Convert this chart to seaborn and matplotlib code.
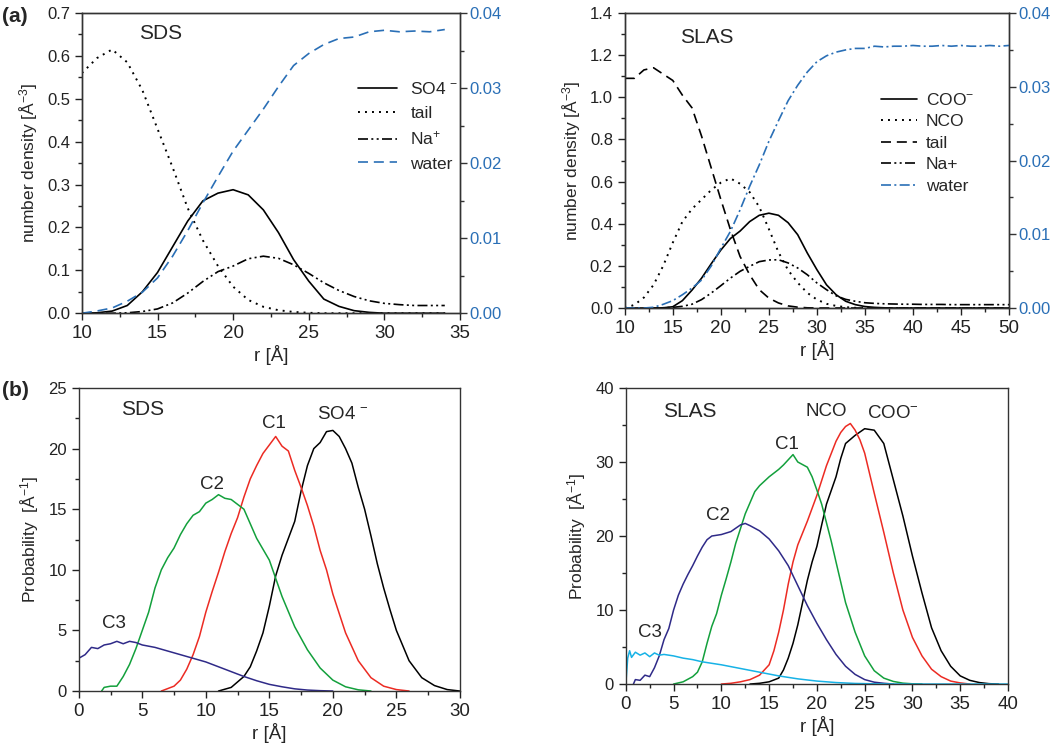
import matplotlib
matplotlib.use('Agg')
import matplotlib.pyplot as plt
from matplotlib.ticker import MultipleLocator, AutoMinorLocator, FormatStrFormatter
import seaborn as sns

# ---- (a) SDS number density, r = 10..34 step 1
r_sds = list(range(10, 35))
so4_sds = [0.0, 0.001, 0.005, 0.018, 0.05, 0.095, 0.155, 0.215, 0.262, 0.28, 0.288, 0.276, 0.241,
           0.188, 0.125, 0.075, 0.033, 0.016, 0.006, 0.002, 0.0, 0.0, 0.0, 0.0, 0.0]
tail_sds = [0.56, 0.595, 0.615, 0.585, 0.52, 0.43, 0.34, 0.245, 0.17, 0.11, 0.062, 0.031, 0.015,
            0.007, 0.003, 0.001, 0.0, 0.0, 0.0, 0.0, 0.0, 0.0, 0.0, 0.0, 0.0]
na_sds = [0.0, 0.0, 0.0, 0.001, 0.004, 0.01, 0.024, 0.047, 0.074, 0.097, 0.11, 0.127, 0.133,
          0.128, 0.113, 0.093, 0.071, 0.053, 0.039, 0.029, 0.023, 0.02, 0.018, 0.018, 0.018]
water_sds = [0.0, 0.0003, 0.0007, 0.0016, 0.0028, 0.0047, 0.0076, 0.011, 0.0147, 0.0182, 0.0216,
             0.0244, 0.0272, 0.0302, 0.033, 0.0346, 0.0358, 0.0366, 0.0368, 0.0375, 0.0377,
             0.0375, 0.0376, 0.0375, 0.0378]

# ---- (a) SLAS number density, r = 10..50 step 1
r_slas = list(range(10, 51))
coo_slas = [0.0, 0.0, 0.0, 0.0, 0.001, 0.006, 0.035, 0.085, 0.142, 0.21, 0.275, 0.33, 0.365, 0.41,
            0.44, 0.45, 0.44, 0.405, 0.348, 0.261, 0.182, 0.11, 0.063, 0.032, 0.016, 0.007, 0.003,
            0.001] + [0.0] * 13
nco_slas = [0.0, 0.015, 0.05, 0.11, 0.2, 0.31, 0.41, 0.47, 0.515, 0.56, 0.595, 0.615, 0.59, 0.55,
            0.48, 0.375, 0.265, 0.18, 0.12, 0.072, 0.04, 0.02, 0.01, 0.004, 0.001] + [0.0] * 16
tail_slas = [1.09, 1.09, 1.13, 1.14, 1.11, 1.08, 1.01, 0.95, 0.815, 0.665, 0.515, 0.372, 0.245,
             0.158, 0.087, 0.047, 0.024, 0.01, 0.004, 0.001] + [0.0] * 21
na_slas = [0.0, 0.0, 0.0, 0.0, 0.001, 0.003, 0.008, 0.018, 0.04, 0.071, 0.106, 0.142, 0.174, 0.198,
           0.22, 0.228, 0.229, 0.214, 0.19, 0.158, 0.119, 0.087, 0.058, 0.041, 0.032, 0.025, 0.022,
           0.02, 0.019, 0.018, 0.018, 0.017, 0.017, 0.017, 0.016, 0.016, 0.016, 0.016, 0.016,
           0.016, 0.016]
water_slas = [0.0, 0.0, 0.0, 0.0001, 0.0005, 0.001, 0.0018, 0.0027, 0.0038, 0.0057, 0.0081, 0.0104,
              0.0133, 0.0165, 0.0194, 0.0226, 0.0254, 0.0281, 0.0302, 0.032, 0.0334, 0.0342,
              0.0347, 0.035, 0.0352, 0.0352, 0.0355, 0.0354, 0.0355, 0.0355, 0.0356, 0.0355,
              0.0355, 0.0356, 0.0355, 0.0356, 0.0355, 0.0355, 0.0356, 0.0355, 0.0356]

# ---- (b) SDS probability
c3_sds_r = [0, 0.5, 1, 1.5, 2, 2.5, 3, 3.5, 4, 4.5, 5, 6, 7, 8, 9, 10, 11, 12, 13, 14, 15, 16, 17,
            18, 19, 20]
c3_sds_p = [2.7, 3.0, 3.6, 3.5, 3.8, 3.9, 4.1, 3.9, 4.1, 4.0, 3.8, 3.6, 3.3, 3.0, 2.7, 2.4, 2.0, 1.6,
            1.2, 0.85, 0.55, 0.35, 0.18, 0.08, 0.03, 0.0]
c2_sds_r = [1.8, 2, 2.5, 3, 3.5, 4, 4.5, 5, 5.5, 6, 6.5, 7, 7.5, 8, 8.5, 9, 9.5, 10, 10.5, 11, 11.5,
            12, 12.5, 13, 13.5, 14, 15, 16, 17, 18, 19, 20, 21, 22, 23]
c2_sds_p = [0, 0.3, 0.4, 0.4, 1.2, 2.2, 3.5, 5.0, 6.5, 8.5, 10.0, 11.0, 11.8, 12.9, 13.8, 14.5, 14.8,
            15.5, 15.8, 16.2, 15.9, 15.8, 15.4, 15.0, 13.8, 12.6, 10.8, 7.8, 5.3, 3.4, 1.9, 0.9,
            0.35, 0.1, 0.0]
c1_sds_r = [6.5, 7, 7.5, 8, 8.5, 9, 9.5, 10, 10.5, 11, 11.5, 12, 12.5, 13, 13.5, 14, 14.5, 15, 15.5,
            16, 16.5, 17, 17.5, 18, 18.5, 19, 19.5, 20, 21, 22, 23, 24, 25, 26]
c1_sds_p = [0, 0.2, 0.4, 0.9, 1.8, 3.0, 4.5, 6.5, 8.2, 9.8, 11.5, 13.0, 14.3, 16.0, 17.5, 18.6, 19.6,
            20.3, 21.0, 20.2, 19.8, 18.2, 16.8, 15.3, 13.6, 11.6, 10.0, 8.0, 4.8, 2.5, 1.1, 0.4,
            0.12, 0.0]
so4_sds_r = [11, 12, 13, 13.5, 14, 14.5, 15, 15.5, 16, 16.5, 17, 17.5, 18, 18.5, 19, 19.5, 20, 20.5,
             21, 21.5, 22, 22.5, 23, 23.5, 24, 24.5, 25, 26, 27, 28, 29, 30]
so4_sds_p = [0, 0.3, 1.2, 2.0, 3.3, 4.8, 7.0, 9.5, 11.2, 12.6, 14.0, 16.5, 18.6, 20.0, 20.5, 21.4,
             21.5, 21.0, 20.0, 18.8, 16.8, 15.0, 12.8, 10.5, 8.5, 6.7, 5.0, 2.5, 1.1, 0.45, 0.12, 0.0]

# ---- (b) SLAS probability
c3_slas_r = [0, 0.2, 0.4, 0.6, 1, 1.5, 2, 2.5, 3, 3.5, 4, 5, 6, 7, 8, 10, 12, 14, 16, 18, 20, 22,
             24, 26, 28, 30, 40]
c3_slas_p = [0, 3.5, 4.5, 3.6, 4.3, 3.9, 4.2, 3.7, 4.2, 3.9, 4.0, 3.8, 3.5, 3.3, 3.0, 2.6, 2.1, 1.6,
             1.1, 0.7, 0.4, 0.2, 0.08, 0.03, 0.01, 0.0, 0.0]
c2_slas_r = [0.8, 1, 1.5, 2, 2.5, 3, 3.5, 4, 4.5, 5, 5.5, 6, 6.5, 7, 7.5, 8, 8.5, 9, 10, 11, 12,
             12.5, 13, 14, 15, 16, 17, 18, 19, 20, 21, 22, 23, 24, 25, 26, 27, 28]
c2_slas_p = [0, 0.6, 0.5, 1.2, 1.0, 2.2, 3.8, 6.0, 7.5, 10.0, 12.0, 13.5, 14.8, 16.0, 17.3, 18.5,
             19.5, 20.0, 20.2, 20.6, 21.5, 21.7, 21.4, 20.7, 19.6, 18.0, 16.0, 13.3, 10.6, 8.2, 6.0,
             4.0, 2.4, 1.3, 0.6, 0.25, 0.1, 0.0]
c1_slas_r = [5, 6, 7, 7.5, 8, 8.5, 9, 9.5, 10, 10.5, 11, 11.5, 12, 12.5, 13, 13.5, 14, 15, 16, 16.5,
             17, 17.5, 18, 19, 19.5, 20, 20.5, 21, 21.5, 22, 23, 24, 25, 26, 27, 28, 29, 30, 31]
c1_slas_p = [0, 0.3, 1.0, 1.6, 3.0, 5.5, 7.8, 9.5, 12.0, 14.2, 16.5, 19.0, 21.0, 23.0, 24.5, 26.0,
             26.8, 28.0, 29.0, 29.6, 30.3, 31.0, 30.0, 29.3, 28.0, 26.2, 24.3, 21.8, 19.3, 16.5,
             11.0, 7.0, 3.8, 1.8, 0.8, 0.35, 0.12, 0.03, 0.0]
nco_slas_r = [10, 11, 12, 13, 14, 15, 15.5, 16, 16.5, 17, 17.5, 18, 19, 20, 21, 22, 22.5, 23, 23.5,
              24, 24.5, 25, 26, 27, 28, 29, 30, 31, 32, 33, 34, 35, 36]
nco_slas_p = [0, 0.1, 0.3, 0.6, 1.2, 2.6, 4.5, 7.0, 10.0, 13.5, 16.5, 18.8, 22.0, 25.5, 29.5, 32.8,
              34.0, 34.8, 35.2, 34.3, 33.0, 31.2, 25.8, 20.5, 15.0, 10.0, 6.3, 3.8, 2.0, 1.0, 0.4,
              0.15, 0.0]
coo_slas_r = [13, 14, 15, 16, 16.5, 17, 17.5, 18, 18.5, 19, 19.5, 20, 20.5, 21, 22, 22.5, 23, 24,
              25, 26, 27, 28, 29, 30, 31, 32, 33, 34, 35, 36, 37, 38, 39]
coo_slas_p = [0, 0.1, 0.3, 0.8, 1.9, 3.5, 5.5, 8.0, 11.0, 14.0, 16.5, 18.6, 21.5, 24.3, 28.0, 30.5,
              32.5, 33.6, 34.5, 34.3, 32.5, 27.6, 22.7, 17.3, 12.3, 7.6, 4.5, 2.4, 1.1, 0.5, 0.2,
              0.05, 0.0]

BLUE = '#2a6fb6'
GREEN = '#13a03c'
RED = '#ec2b23'
NAVY = '#2f2a88'
CYAN = '#17b2e6'

DOT = (0, (1, 2.6))
DASH = (0, (6, 3.5))
DDOT = (0, (6, 2, 1.2, 2, 1.2, 2))
DDASH = (0, (6, 2, 1.2, 2))

FS = 12.5       # axis labels / legend
FS_X = 13.5     # x tick labels
FS_Y = 12       # y tick labels
FS_TITLE = 15   # SDS / SLAS
FS_TXT = 13.5   # curve annotations

sns.set_style('ticks')
plt.rcParams['font.family'] = ['Liberation Sans', 'DejaVu Sans']
plt.rcParams['mathtext.default'] = 'regular'
plt.rcParams['font.size'] = FS
plt.rcParams['axes.linewidth'] = 1.0

fig = plt.figure(figsize=(10.5, 7.44), dpi=100)
ax_tl = fig.add_axes([0.078, 0.579, 0.360, 0.4035])
ax_tr = fig.add_axes([0.595, 0.586, 0.366, 0.3965])
ax_bl = fig.add_axes([0.075, 0.0712, 0.363, 0.4073])
ax_br = fig.add_axes([0.596, 0.0806, 0.364, 0.3979])


def style_axis(ax, xlim, xmajor, ylim, ymajor, ylabel):
    ax.set_xlim(*xlim)
    ax.set_ylim(*ylim)
    ax.xaxis.set_major_locator(MultipleLocator(xmajor))
    ax.yaxis.set_major_locator(MultipleLocator(ymajor))
    ax.xaxis.set_minor_locator(AutoMinorLocator(2))
    ax.yaxis.set_minor_locator(AutoMinorLocator(2))
    ax.tick_params(which='both', direction='out', top=False, right=False, colors='#222222')
    ax.tick_params(axis='x', labelsize=FS_X)
    ax.tick_params(axis='y', labelsize=FS_Y)
    ax.tick_params(which='major', length=5, width=1)
    ax.tick_params(which='minor', length=3, width=1)
    for s in ax.spines.values():
        s.set_visible(True)
        s.set_color('#333333')
    ax.set_xlabel('r [Å]', fontsize=13.5, labelpad=2)
    ax.set_ylabel(ylabel, fontsize=FS, labelpad=5)


def right_axis(ax):
    ax2 = ax.twinx()
    ax2.set_ylim(0, 0.04)
    ax2.yaxis.set_major_locator(MultipleLocator(0.01))
    ax2.yaxis.set_minor_locator(AutoMinorLocator(2))
    ax2.yaxis.set_major_formatter(FormatStrFormatter('%.2f'))
    ax2.tick_params(which='both', direction='out', labelsize=12, labelcolor=BLUE,
                    color='#333333', pad=2)
    ax2.tick_params(which='major', length=5, width=1)
    ax2.tick_params(which='minor', length=3, width=1)
    for s in ax2.spines.values():
        s.set_color('#333333')
    ax2.grid(False)
    return ax2


# ---------- (a) SDS
lw = 1.2
sns.lineplot(x=r_sds, y=so4_sds, ax=ax_tl, color='black', lw=lw, label='SO4 $^{-}$')
sns.lineplot(x=r_sds, y=tail_sds, ax=ax_tl, color='black', lw=1.4, linestyle=DOT, label='tail')
sns.lineplot(x=r_sds, y=na_sds, ax=ax_tl, color='black', lw=lw, linestyle=DDOT, label='Na$^{+}$')
style_axis(ax_tl, (10, 35), 5, (0, 0.7), 0.1, 'number density [Å$^{-3}$]')
ax_tl.yaxis.set_major_formatter(FormatStrFormatter('%.1f'))
tl2 = right_axis(ax_tl)
sns.lineplot(x=r_sds, y=water_sds, ax=tl2, color=BLUE, lw=lw, linestyle=DASH, label='water')
tl2.set_ylabel('')
h1, l1 = ax_tl.get_legend_handles_labels()
h2, l2 = tl2.get_legend_handles_labels()
if ax_tl.get_legend():
    ax_tl.get_legend().remove()
tl2.legend(h1 + h2, l1 + l2, loc='upper left', bbox_to_anchor=(0.69, 0.825), frameon=False,
           fontsize=FS, handlelength=2.2, handletextpad=0.8, labelspacing=0.5)
ax_tl.text(15.2, 0.653, 'SDS', fontsize=FS_TITLE, ha='center', va='center')

# ---------- (a) SLAS
sns.lineplot(x=r_slas, y=coo_slas, ax=ax_tr, color='black', lw=lw, label='COO$^{-}$')
sns.lineplot(x=r_slas, y=nco_slas, ax=ax_tr, color='black', lw=1.4, linestyle=DOT, label='NCO')
sns.lineplot(x=r_slas, y=tail_slas, ax=ax_tr, color='black', lw=lw, linestyle=DASH, label='tail')
sns.lineplot(x=r_slas, y=na_slas, ax=ax_tr, color='black', lw=lw, linestyle=DDOT, label='Na+')
style_axis(ax_tr, (10, 50), 5, (0, 1.4), 0.2, 'number density [Å$^{-3}$]')
ax_tr.yaxis.set_major_formatter(FormatStrFormatter('%.1f'))
tr2 = right_axis(ax_tr)
sns.lineplot(x=r_slas, y=water_slas, ax=tr2, color=BLUE, lw=lw, linestyle=DDASH, label='water')
tr2.set_ylabel('')
h1, l1 = ax_tr.get_legend_handles_labels()
h2, l2 = tr2.get_legend_handles_labels()
if ax_tr.get_legend():
    ax_tr.get_legend().remove()
tr2.legend(h1 + h2, l1 + l2, loc='upper left', bbox_to_anchor=(0.625, 0.785), frameon=False,
           fontsize=FS, handlelength=2.1, handletextpad=0.5, labelspacing=0.36)
ax_tr.text(18.5, 1.286, 'SLAS', fontsize=FS_TITLE, ha='center', va='center')

# ---------- (b) SDS
lw2 = 1.1
sns.lineplot(x=so4_sds_r, y=so4_sds_p, ax=ax_bl, color='black', lw=lw2)
sns.lineplot(x=c1_sds_r, y=c1_sds_p, ax=ax_bl, color=RED, lw=lw2)
sns.lineplot(x=c2_sds_r, y=c2_sds_p, ax=ax_bl, color=GREEN, lw=lw2)
sns.lineplot(x=c3_sds_r, y=c3_sds_p, ax=ax_bl, color=NAVY, lw=lw2)
style_axis(ax_bl, (0, 30), 5, (0, 25), 5, 'Probability  [Å$^{-1}$]')
ax_bl.text(5.0, 23.2, 'SDS', fontsize=FS_TITLE, ha='center', va='center')
ax_bl.text(2.8, 5.6, 'C3', fontsize=FS_TXT, ha='center', va='center')
ax_bl.text(10.5, 17.0, 'C2', fontsize=FS_TXT, ha='center', va='center')
ax_bl.text(15.4, 22.1, 'C1', fontsize=FS_TXT, ha='center', va='center')
ax_bl.text(20.8, 22.8, 'SO4 $^{-}$', fontsize=FS_TXT, ha='center', va='center')

# ---------- (b) SLAS
sns.lineplot(x=coo_slas_r, y=coo_slas_p, ax=ax_br, color='black', lw=lw2)
sns.lineplot(x=nco_slas_r, y=nco_slas_p, ax=ax_br, color=RED, lw=lw2)
sns.lineplot(x=c1_slas_r, y=c1_slas_p, ax=ax_br, color=GREEN, lw=lw2)
sns.lineplot(x=c2_slas_r, y=c2_slas_p, ax=ax_br, color=NAVY, lw=lw2)
sns.lineplot(x=c3_slas_r, y=c3_slas_p, ax=ax_br, color=CYAN, lw=lw2)
style_axis(ax_br, (0, 40), 5, (0, 40), 10, 'Probability  [Å$^{-1}$]')
ax_br.text(6.7, 36.8, 'SLAS', fontsize=FS_TITLE, ha='center', va='center')
ax_br.text(21.0, 36.8, 'NCO', fontsize=FS_TXT, ha='center', va='center')
ax_br.text(28.0, 36.6, 'COO$^{-}$', fontsize=FS_TXT, ha='center', va='center')
ax_br.text(16.9, 32.4, 'C1', fontsize=FS_TXT, ha='center', va='center')
ax_br.text(9.6, 22.8, 'C2', fontsize=FS_TXT, ha='center', va='center')
ax_br.text(2.5, 7.0, 'C3', fontsize=FS_TXT, ha='center', va='center')

fig.text(0.002, 0.978, '(a)', fontsize=15, fontweight='bold', ha='left', va='center')
fig.text(0.002, 0.475, '(b)', fontsize=15, fontweight='bold', ha='left', va='center')

fig.savefig('out.png', dpi=100)
